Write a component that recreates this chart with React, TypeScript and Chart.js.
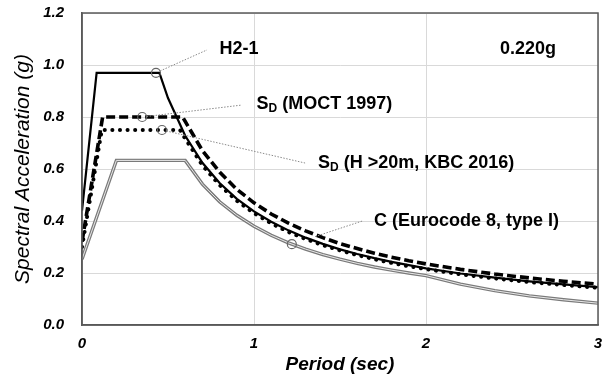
import React, { useEffect, useRef } from 'react';
import { Chart, registerables } from 'chart.js';
Chart.register(...registerables);

const FONT = '"Liberation Sans", Arial, sans-serif';

// Eurocode 8, type I, ground C
const euroPeriods = [0, 0.2, 0.6, 0.7, 0.8, 0.9, 1.0, 1.1, 1.2, 1.3, 1.4, 1.5, 1.6, 1.7, 1.8, 1.9, 2.0, 2.2, 2.4, 2.6, 2.8, 3.0];
const euroValues = [0.253, 0.633, 0.633, 0.542, 0.474, 0.422, 0.380, 0.345, 0.316, 0.292, 0.271, 0.253, 0.237, 0.223, 0.211, 0.200, 0.190, 0.157, 0.132, 0.112, 0.097, 0.084];

// H2-1
const h21Periods = [0, 0.085, 0.45, 0.5, 0.6, 0.7, 0.8, 0.9, 1.0, 1.1, 1.2, 1.3, 1.4, 1.5, 1.6, 1.7, 1.8, 1.9, 2.0, 2.2, 2.4, 2.6, 2.8, 3.0];
const h21Values = [0.44, 0.97, 0.97, 0.873, 0.728, 0.624, 0.546, 0.485, 0.437, 0.397, 0.364, 0.336, 0.312, 0.291, 0.273, 0.257, 0.243, 0.230, 0.218, 0.198, 0.182, 0.168, 0.156, 0.146];

// SD (MOCT 1997)
const moctPeriods = [0, 0.12, 0.585, 0.6, 0.7, 0.8, 0.9, 1.0, 1.1, 1.2, 1.3, 1.4, 1.5, 1.6, 1.7, 1.8, 1.9, 2.0, 2.2, 2.4, 2.6, 2.8, 3.0];
const moctValues = [0.32, 0.80, 0.80, 0.783, 0.671, 0.588, 0.522, 0.47, 0.427, 0.392, 0.362, 0.336, 0.313, 0.294, 0.276, 0.261, 0.247, 0.235, 0.214, 0.196, 0.181, 0.168, 0.157];

// SD (H>20m, KBC 2016)
const kbcPeriods = [0, 0.115, 0.57, 0.6, 0.7, 0.8, 0.9, 1.0, 1.1, 1.2, 1.3, 1.4, 1.5, 1.6, 1.7, 1.8, 1.9, 2.0, 2.2, 2.4, 2.6, 2.8, 3.0];
const kbcValues = [0.30, 0.75, 0.75, 0.717, 0.614, 0.538, 0.478, 0.43, 0.391, 0.358, 0.331, 0.307, 0.287, 0.269, 0.253, 0.239, 0.226, 0.215, 0.195, 0.179, 0.165, 0.154, 0.143];

// circle markers on curves
const markerPeriods = [0.43, 0.35, 0.465, 1.22];
const markerValues = [0.97, 0.80, 0.75, 0.311];

// leader lines and labels (data units)
const leaderFromT = [0.43, 0.35, 0.465, 1.355];
const leaderFromV = [0.97, 0.80, 0.75, 0.34];
const leaderFromCircle = [true, true, true, false];
const leaderToT = [0.727, 0.93, 1.297, 1.63];
const leaderToV = [1.058, 0.846, 0.623, 0.40];
const labelT = [0.80, 1.015, 1.372, 1.698];
const labelV = [1.062, 0.85, 0.623, 0.40];
const labelParts: [string, boolean][][] = [
  [['H2-1', false]],
  [['S', false], ['D', true], [' (MOCT 1997)', false]],
  [['S', false], ['D', true], [' (H >20m, KBC 2016)', false]],
  [['C (Eurocode 8, type I)', false]],
];
const pgaText = '0.220g';
const pgaT = 2.43;
const pgaV = 1.06;

const xTickLabels = ['0', '1', '2', '3'];
const yTickLabels = ['0.0', '0.2', '0.4', '0.6', '0.8', '1.0', '1.2'];

const pts = (xs: number[], ys: number[]) => xs.map((x, i) => ({ x, y: ys[i] }));

const annotPlugin = {
  id: 'annot',
  afterDatasetsDraw(chart: any) {
    const { ctx, scales } = chart;
    const x = scales.x, y = scales.y;
    ctx.save();
    ctx.strokeStyle = '#8a8a8a';
    ctx.lineWidth = 1;
    ctx.setLineDash([1.5, 1.5]);
    const r = 4.5;
    for (let i = 0; i < leaderFromT.length; i++) {
      let x0 = x.getPixelForValue(leaderFromT[i]);
      let y0 = y.getPixelForValue(leaderFromV[i]);
      const x1 = x.getPixelForValue(leaderToT[i]);
      const y1 = y.getPixelForValue(leaderToV[i]);
      if (leaderFromCircle[i]) {
        const d = Math.hypot(x1 - x0, y1 - y0);
        x0 += ((x1 - x0) / d) * r;
        y0 += ((y1 - y0) / d) * r;
      }
      ctx.beginPath();
      ctx.moveTo(x0, y0);
      ctx.lineTo(x1, y1);
      ctx.stroke();
    }
    ctx.setLineDash([]);
    ctx.fillStyle = '#000';
    ctx.textBaseline = 'middle';
    ctx.textAlign = 'left';
    for (let i = 0; i < labelParts.length; i++) {
      let cx = x.getPixelForValue(labelT[i]);
      const cy = y.getPixelForValue(labelV[i]);
      for (const [t, sub] of labelParts[i]) {
        ctx.font = sub ? `bold 12px ${FONT}` : `bold 18px ${FONT}`;
        ctx.fillText(t, cx, sub ? cy + 5 : cy);
        cx += ctx.measureText(t).width;
      }
    }
    ctx.font = `bold 18px ${FONT}`;
    ctx.fillText(pgaText, x.getPixelForValue(pgaT), y.getPixelForValue(pgaV));
    ctx.restore();
  },
  afterDraw(chart: any) {
    const { ctx, chartArea } = chart;
    ctx.save();
    ctx.strokeStyle = '#595959';
    ctx.lineWidth = 1.5;
    ctx.strokeRect(chartArea.left, chartArea.top, chartArea.right - chartArea.left, chartArea.bottom - chartArea.top);
    ctx.restore();
  },
};

export default function App() {
  const ref = useRef<HTMLCanvasElement>(null);
  useEffect(() => {
    const tickFont = { family: FONT, size: 15, weight: 'bold' as const, style: 'italic' as const };
    const chart = new Chart(ref.current!, {
      type: 'line',
      data: {
        datasets: [
          { data: pts(euroPeriods, euroValues), borderColor: '#7a7a7a', borderWidth: 3.4, pointRadius: 0, tension: 0, order: 6 },
          { data: pts(euroPeriods, euroValues), borderColor: '#e8e8e8', borderWidth: 1, pointRadius: 0, tension: 0, order: 5 },
          { data: pts(h21Periods, h21Values), borderColor: '#000', borderWidth: 2.2, pointRadius: 0, tension: 0, order: 4 },
          { data: pts(moctPeriods, moctValues), borderColor: '#000', borderWidth: 3.6, borderDash: [9, 4], pointRadius: 0, tension: 0, order: 3 },
          { data: pts(kbcPeriods, kbcValues), borderColor: '#000', borderWidth: 4, borderDash: [0.1, 7.5], borderCapStyle: 'round', pointRadius: 0, tension: 0, order: 2 },
          { data: pts(markerPeriods, markerValues), showLine: false, pointRadius: 4.5, pointStyle: 'circle', pointBorderColor: '#666', pointBackgroundColor: 'rgba(0,0,0,0)', pointBorderWidth: 1.2, order: 1 },
        ] as any,
      },
      options: {
        animation: false,
        responsive: false,
        events: [],
        layout: { padding: { top: 13, right: 10, left: 0, bottom: 0 } },
        plugins: { legend: { display: false }, tooltip: { enabled: false } },
        scales: {
          x: {
            type: 'linear',
            min: 0,
            max: 3,
            ticks: { stepSize: 1, font: tickFont, color: '#000', padding: 0, callback: (_v: any, i: number) => xTickLabels[i] },
            grid: { color: '#d9d9d9', drawTicks: true, tickLength: 10, tickColor: 'rgba(0,0,0,0)' },
            border: { color: '#595959', width: 1.5 },
            title: { display: true, text: 'Period (sec)', color: '#000', font: { family: FONT, size: 19, weight: 'bold', style: 'italic' }, padding: { top: 0, bottom: 8 } },
            afterFit: (s: any) => { s.height = 59; },
          },
          y: {
            min: 0,
            max: 1.2,
            ticks: { stepSize: 0.2, font: tickFont, color: '#000', padding: 0, callback: (_v: any, i: number) => yTickLabels[i] },
            grid: { color: '#d9d9d9', drawTicks: true, tickLength: 18, tickColor: 'rgba(0,0,0,0)' },
            border: { color: '#595959', width: 1.5 },
            title: { display: true, text: 'Spectral Acceleration (g)', color: '#000', font: { family: FONT, size: 21, weight: 'normal', style: 'italic' }, padding: { top: 11, bottom: 0 } },
            afterFit: (s: any) => { s.width = 82; },
          },
        },
      } as any,
      plugins: [annotPlugin],
    });
    return () => chart.destroy();
  }, []);
  return (
    <div style={{ position: 'absolute', left: 0, top: 0, width: 608, height: 384, background: '#fff' }}>
      <canvas ref={ref} width={608} height={384} style={{ display: 'block' }} />
    </div>
  );
}
